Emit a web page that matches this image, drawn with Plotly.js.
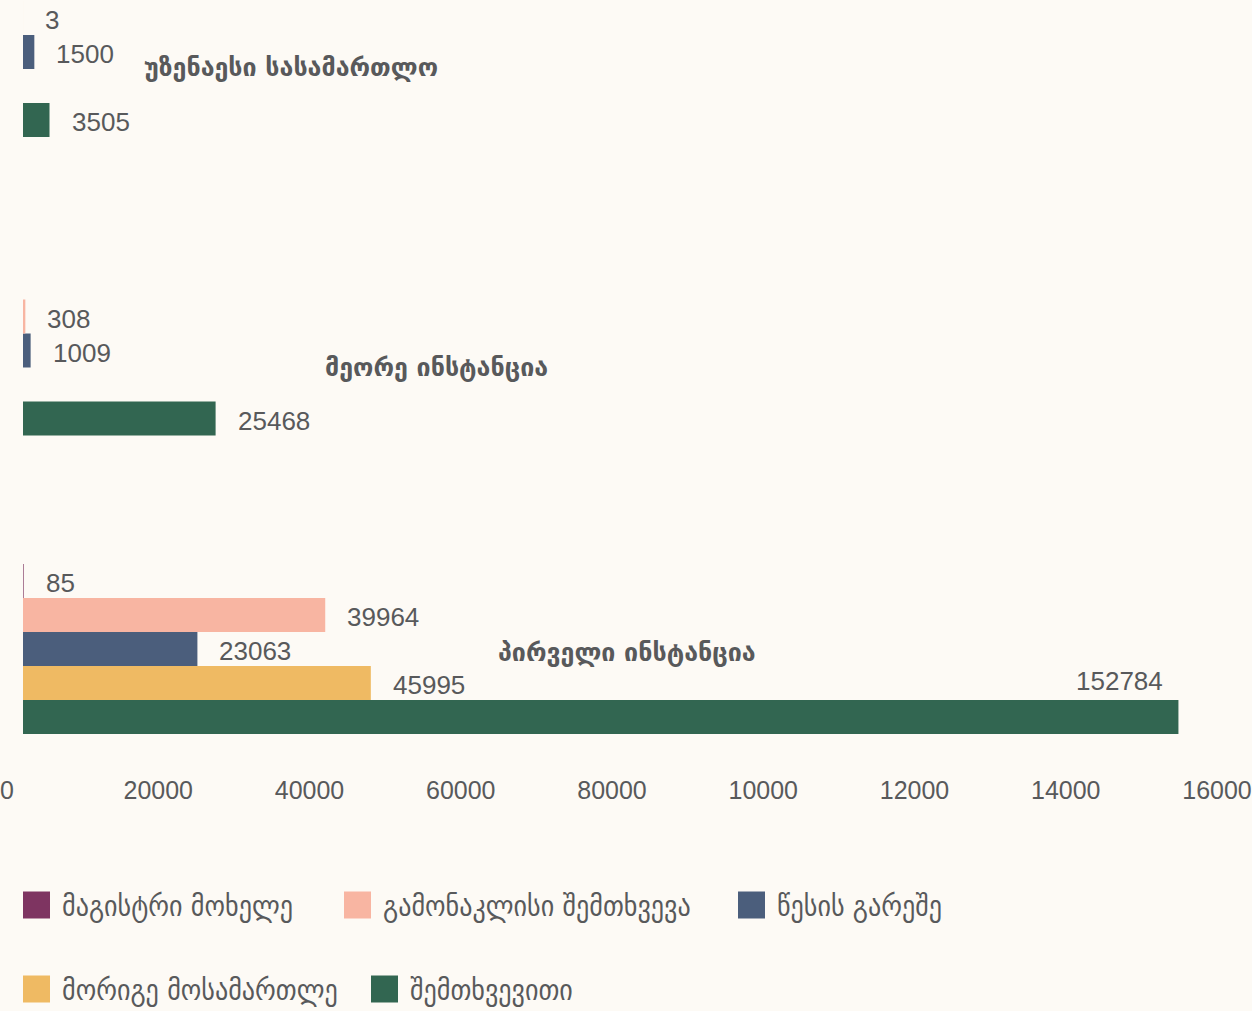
<!DOCTYPE html>
<html><head><meta charset="utf-8">
<script src="https://cdn.plot.ly/plotly-3.0.1.min.js"></script>
<style>html,body{margin:0;padding:0;background:#fdfaf5;}</style>
</head><body>
<div id="chart" style="width:1252px;height:1011px;"></div>
<script>
// ---- data ----
const categories = ['პირველი ინსტანცია', 'მეორე ინსტანცია', 'უზენაესი სასამართლო'];
const seriesNames = ['მაგისტრი მოხელე', 'გამონაკლისი შემთხვევა', 'წესის გარეშე', 'მორიგე მოსამართლე', 'შემთხვევითი'];
const magistriMokhele = [85, null, null];
const gamonaklisiShemtkhveva = [39964, 308, 3];
const wesisGareshe = [23063, 1009, 1500];
const morigeMosamartle = [45995, null, null];
const shemtkhveviti = [152784, 25468, 3505];
const seriesColors = ['#7e3461', '#f8b5a2', '#4b5e7c', '#efba63', '#326651'];
const tickValues = [0, 20000, 40000, 60000, 80000, 100000, 120000, 140000, 160000];
const tickLabels = ['0', '20000', '40000', '60000', '80000', '10000', '12000', '14000', '16000'];

// ---- layout constants ----
const W = 1252, H = 1011;
const ML = 23, MR = 19, MT = 0, PLOT_H = 770;
const MB = H - MT - PLOT_H;
const PLOT_W = W - ML - MR;
const CAT_PX = 298.5;           // pixels between category centres
const CAT0_PX = 649;            // pixel of first category centre
const yMax = (CAT0_PX - MT) / CAT_PX;
const yMin = yMax - PLOT_H / CAT_PX;
const BAR_PX = 34;
const nSeries = seriesNames.length;
const bargap = 1 - BAR_PX * nSeries / CAT_PX;
const xMax = 160000;
const textColor = '#58595b';
const numFont = '"Liberation Sans", Arial, sans-serif';
const geoFont = '"DejaVu Sans", sans-serif';

const seriesValues = [magistriMokhele, gamonaklisiShemtkhveva, wesisGareshe, morigeMosamartle, shemtkhveviti];

const px2x = px => (px - ML) / PLOT_W;
const py2y = py => (MT + PLOT_H - py) / PLOT_H;

// traces added in reverse so first series sits on top of each group
const traces = [];
const annotations = [];
for (let k = nSeries - 1; k >= 0; k--) {
  const slot = nSeries - 1 - k; // 0 = bottom of group
  traces.push({
    type: 'bar', orientation: 'h',
    name: seriesNames[k],
    y: categories, x: seriesValues[k],
    marker: {color: seriesColors[k], line: {width: 0}},
    showlegend: false,
    hoverinfo: 'x+name'
  });
  const yOff = (slot - (nSeries - 1) / 2) * BAR_PX;
  seriesValues[k].forEach((v, i) => {
    if (v === null) return;
    const nearEdge = v > 0.9 * xMax;
    annotations.push({
      x: v, y: categories[i], xref: 'x', yref: 'y',
      text: String(v), showarrow: false,
      xanchor: nearEdge ? 'right' : 'left',
      xshift: nearEdge ? -13 : 20,
      yshift: yOff + (nearEdge ? 38 : 0) - 2,
      font: {family: numFont, size: 26, color: textColor}
    });
  });
}

// category labels inside plot
const catLabelPx = [[627, 652], [436, 367], [291, 67]];
categories.forEach((c, i) => {
  const centre = CAT0_PX - i * CAT_PX;
  annotations.push({
    x: px2x(catLabelPx[i][0]), xref: 'paper', y: c, yref: 'y',
    yshift: centre - catLabelPx[i][1],
    text: c, showarrow: false, xanchor: 'center',
    font: {family: geoFont, size: 25, color: textColor, weight: 'bold'}
  });
});

// custom legend
const legendPos = [[23, 905], [344, 905], [738, 905], [23, 989], [371, 989]];
const SQ = 27;
const shapes = [];
seriesNames.forEach((n, k) => {
  const [sx, sy] = legendPos[k];
  shapes.push({
    type: 'rect', xref: 'paper', yref: 'paper',
    x0: px2x(sx), x1: px2x(sx + SQ), y0: py2y(sy + SQ / 2), y1: py2y(sy - SQ / 2),
    fillcolor: seriesColors[k], line: {width: 0}
  });
  annotations.push({
    x: px2x(sx + SQ + 10), y: py2y(sy + 1), xref: 'paper', yref: 'paper',
    xanchor: 'left', yanchor: 'middle', showarrow: false,
    text: n, font: {family: '"DejaVu Sans Condensed", "DejaVu Sans", sans-serif', size: 29, color: textColor}
  });
});

const layout = {
  width: W, height: H,
  margin: {l: ML, r: MR, t: MT, b: MB, pad: 0},
  paper_bgcolor: '#fdfaf5', plot_bgcolor: '#fdfaf5',
  barmode: 'group', bargap: bargap, bargroupgap: 0,
  showlegend: false,
  xaxis: {
    range: [0, xMax], tickvals: tickValues, ticktext: tickLabels,
    showgrid: false, zeroline: false, showline: false, ticks: '',
    tickfont: {family: numFont, size: 25, color: textColor},
    ticklabelshift: -16, ticklabelstandoff: 3
  },
  yaxis: {
    type: 'category', categoryorder: 'array', categoryarray: categories,
    range: [yMin, yMax], showticklabels: false, showgrid: false,
    zeroline: false, showline: false, ticks: ''
  },
  annotations: annotations,
  shapes: shapes
};

Plotly.newPlot('chart', traces, layout, {displayModeBar: false, staticPlot: true});
</script>
</body></html>
